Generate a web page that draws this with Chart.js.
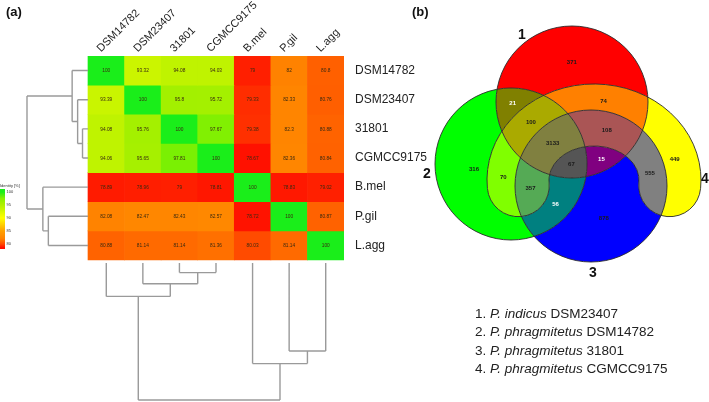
<!DOCTYPE html>
<html><head><meta charset="utf-8">
<script src="https://cdn.jsdelivr.net/npm/chart.js@4.4.0/dist/chart.umd.min.js"></script>
<style>
html,body{margin:0;padding:0;background:#fff;}
#wrap{position:relative;width:709px;height:402px;overflow:hidden;font-family:'Liberation Sans',Arial,sans-serif;}
#heat{position:absolute;left:0;top:0;}
#venn{position:absolute;left:400px;top:0;}
.panel{position:absolute;top:4px;font-weight:bold;font-size:13px;color:#111;}
#legend{position:absolute;left:475px;top:305px;font-size:13.5px;line-height:18.3px;color:#222;white-space:nowrap;}
</style></head>
<body><div id="wrap">
<canvas id="heat" width="430" height="402"></canvas>
<canvas id="venn" width="309" height="402"></canvas>
<div class="panel" style="left:6px">(a)</div>
<div class="panel" style="left:412px">(b)</div>
<div id="legend"></div>
</div>
<script>
// ---------------- DATA ----------------
const colNames = ['DSM14782','DSM23407','31801','CGMCC9175','B.mel','P.gil','L.agg'];
const rowNames = ['DSM14782','DSM23407','31801','CGMCC9175','B.mel','P.gil','L.agg'];
const rowDSM14782  = [100, 93.32, 94.08, 94.03, 79, 82, 80.8];
const rowDSM23407  = [93.39, 100, 95.8, 95.72, 79.33, 82.33, 80.76];
const row31801     = [94.08, 95.76, 100, 97.67, 79.38, 82.3, 80.88];
const rowCGMCC9175 = [94.06, 95.65, 97.81, 100, 78.67, 82.36, 80.84];
const rowBmel      = [78.89, 78.96, 79, 78.81, 100, 78.83, 79.02];
const rowPgil      = [82.08, 82.47, 82.43, 82.57, 78.72, 100, 80.87];
const rowLagg      = [80.88, 81.14, 81.14, 81.36, 80.03, 81.14, 100];
const identity = [rowDSM14782, rowDSM23407, row31801, rowCGMCC9175, rowBmel, rowPgil, rowLagg];

// hierarchical clustering (same tree for rows and columns): leaves 0..6, merged nodes 7..12
const mergeA = [2, 1, 0, 5, 4, 9];
const mergeB = [3, 7, 8, 6, 10, 11];
const mergeH = [0.09, 0.17, 0.26, 0.65, 0.74, 1.0];

const legendTicks = [100, 95, 90, 85, 80];
const colorStops = [78.5, 80, 82, 85, 90, 95, 97.5, 100];
const colorHex = ['#ff0a00','#ff4a00','#ff8200','#ffa000','#ffff00','#b0f000','#88f000','#1aee1a'];

const vennRegions = ['1','2','3','4','1&2','1&3','1&4','2&3','2&4','3&4','1&2&3','1&2&4','1&3&4','2&3&4','1&2&3&4'];
const vennCounts  = [371, 316, 878, 449, 21, 15, 74, 56, 70, 555, 67, 100, 108, 357, 3133];
const setLabels  = ['1','2','3','4'];
const setSpecies = ['P. indicus','P. phragmitetus','P. phragmitetus','P. phragmitetus'];
const setStrains = ['DSM23407','DSM14782','31801','CGMCC9175'];
const setColors  = ['#ff0000','#00ff00','#0000ff','#ffff00'];

// ---------------- LAYOUT / STYLE ----------------
const L = {padLeft: 27, heatLeft: 88, heatRight: 344, heatTop: 56, heatBottom: 260, areaBottom: 400, canvasW: 430, canvasH: 402};
const VG = {
  circles: [{x:172, y:102, r:76}, {x:111, y:164, r:76}, {x:191, y:186, r:76}],
  band: {x:194, y:180, rx:76, ry:65, w:31, endDeg:5},
  setLabelPos: [{x:122, y:35}, {x:27, y:174}, {x:193, y:273}, {x:305, y:179}]
};
const whiteLabelRegions = ['1&2','2&3','1&3'];
const FONT = "'Liberation Sans', Arial, sans-serif";
Chart.defaults.font.family = FONT;

document.getElementById('legend').innerHTML = setLabels.map((s,i) =>
  `<div>${s}. <i>${setSpecies[i]}</i> ${setStrains[i]}</div>`).join('');

function hexToRgb(h){ return [1,3,5].map(i => parseInt(h.slice(i,i+2),16)); }
function colorFor(v){
  if (v <= colorStops[0]) return colorHex[0];
  for (let i = 1; i < colorStops.length; i++) {
    if (v <= colorStops[i]) {
      const t = (v - colorStops[i-1]) / (colorStops[i] - colorStops[i-1]);
      const a = hexToRgb(colorHex[i-1]), b = hexToRgb(colorHex[i]);
      return 'rgb(' + a.map((x,j) => Math.round(x + (b[j]-x)*t)).join(',') + ')';
    }
  }
  return colorHex[colorHex.length-1];
}

const nCols = colNames.length, nRows = rowNames.length;
const cellW = (L.heatRight - L.heatLeft) / nCols;
const cellH = (L.heatBottom - L.heatTop) / nRows;

const datasets = identity.map((row, r) => ({
  label: rowNames[r],
  data: row.map((v, c) => ({x: c + 0.5, y: [r, r + 1], v})),
  backgroundColor: row.map(colorFor),
  borderWidth: 0,
  grouped: false,
  barPercentage: 1,
  categoryPercentage: 1
}));

const cellTextPlugin = {
  id: 'cellText',
  afterDatasetsDraw(chart) {
    const ctx = chart.ctx;
    ctx.save();
    ctx.fillStyle = '#3a2a10';
    ctx.font = '6px ' + FONT;
    ctx.textAlign = 'center';
    ctx.textBaseline = 'middle';
    chart.data.datasets.forEach((ds, di) => {
      chart.getDatasetMeta(di).data.forEach((el, i) => {
        const cy = (el.y + el.base) / 2;
        ctx.save();
        ctx.translate(el.x, cy);
        ctx.scale(0.8, 1);
        ctx.fillText(String(ds.data[i].v), 0, 0);
        ctx.restore();
      });
    });
    ctx.restore();
  }
};

const dendroPlugin = {
  id: 'dendro',
  afterDraw(chart) {
    const ctx = chart.ctx, xs = chart.scales.x, ys = chart.scales.y;
    const n = nRows;
    const hLeft = h => xs.getPixelForValue(h * xs.min);
    const hBottom = h => ys.getPixelForValue(nRows + h * (ys.max - nRows));
    function build(leafPix) {
      const pos = leafPix.slice(), ht = new Array(n).fill(0);
      const segs = [];
      mergeA.forEach((a, k) => {
        const b = mergeB[k], id = n + k;
        pos[id] = (pos[a] + pos[b]) / 2; ht[id] = mergeH[k];
        segs.push({p: pos[a], h0: ht[a], h1: mergeH[k]});
        segs.push({p: pos[b], h0: ht[b], h1: mergeH[k]});
        segs.push({cross: true, p0: pos[a], p1: pos[b], h: mergeH[k]});
      });
      return segs;
    }
    ctx.save();
    ctx.strokeStyle = '#9a9a9a';
    ctx.lineWidth = 1.4;
    const rowSegs = build(rowNames.map((_, i) => ys.getPixelForValue(i + 0.5)));
    ctx.beginPath();
    rowSegs.forEach(s => {
      if (s.cross) { const x = hLeft(s.h); ctx.moveTo(x, s.p0); ctx.lineTo(x, s.p1); }
      else { ctx.moveTo(hLeft(s.h0), s.p); ctx.lineTo(hLeft(s.h1), s.p); }
    });
    ctx.stroke();
    const colSegs = build(colNames.map((_, i) => xs.getPixelForValue(i + 0.5)));
    ctx.beginPath();
    colSegs.forEach(s => {
      if (s.cross) { const y = hBottom(s.h); ctx.moveTo(s.p0, y); ctx.lineTo(s.p1, y); }
      else { const y0 = hBottom(s.h0) + (s.h0 === 0 ? 3 : 0); ctx.moveTo(s.p, y0); ctx.lineTo(s.p, hBottom(s.h1)); }
    });
    ctx.stroke();
    // colour key
    const cbTop = 192, cbStep = 13, cbX = 0, cbW = 5;
    const yOf = v => cbTop + (legendTicks[0] - v) / (legendTicks[0] - legendTicks[1]) * cbStep;
    for (let y = 189; y < 249; y++) {
      const v = legendTicks[0] - (y + 0.5 - cbTop) / cbStep * (legendTicks[0] - legendTicks[1]);
      ctx.fillStyle = colorFor(v);
      ctx.fillRect(cbX, y, cbW, 1);
    }
    ctx.fillStyle = '#333';
    ctx.font = '4px ' + FONT;
    ctx.textBaseline = 'middle';
    ctx.textAlign = 'left';
    legendTicks.forEach(t => ctx.fillText(String(t), cbX + cbW + 1.5, yOf(t)));
    ctx.fillText('Identity [%]', 0, 185.5);
    ctx.restore();
  }
};

new Chart(document.getElementById('heat'), {
  type: 'bar',
  data: { datasets },
  options: {
    responsive: false, animation: false, events: [],
    layout: { padding: { left: L.padLeft, right: 0, top: 0, bottom: L.canvasH - L.areaBottom } },
    plugins: { legend: { display: false }, tooltip: { enabled: false } },
    scales: {
      x: {
        type: 'linear', position: 'top', offset: false,
        min: -(L.heatLeft - L.padLeft) / cellW, max: nCols,
        grid: { display: false, drawTicks: false }, border: { display: false },
        afterBuildTicks: ax => { ax.ticks = colNames.map((_, i) => ({ value: i + 0.5 })); },
        afterFit: ax => { ax.height = L.heatTop; ax.paddingLeft = 0; ax.paddingRight = 0; },
        ticks: { autoSkip: false, minRotation: 45, maxRotation: 45, padding: 1, labelOffset: 2, color: '#222',
                 font: { size: 11 }, callback: v => colNames[Math.floor(v)] }
      },
      y: {
        type: 'linear', position: 'right', reverse: true,
        min: 0, max: nRows + (L.areaBottom - L.heatBottom) / cellH,
        grid: { display: false, drawTicks: false }, border: { display: false },
        afterBuildTicks: ax => { ax.ticks = rowNames.map((_, i) => ({ value: i + 0.5 })); },
        afterFit: ax => { ax.width = L.canvasW - L.heatRight; ax.paddingTop = 0; ax.paddingBottom = 0; },
        ticks: { autoSkip: false, padding: 11, color: '#222', font: { size: 12 },
                 callback: v => rowNames[Math.floor(v)] }
      }
    }
  },
  plugins: [cellTextPlugin, dendroPlugin]
});

// ---------------- VENN ----------------
function circlePath(c, px, py, u) {
  const p = new Path2D();
  p.arc(px(c.x), py(c.y), c.r * u, 0, Math.PI * 2);
  p.closePath();
  return p;
}
function bandPath(b, px, py, u) {
  const cx = px(b.x), cy = py(b.y), rx = b.rx * u, ry = b.ry * u, w = b.w * u;
  const d = b.endDeg * Math.PI / 180, a0 = Math.PI - d, a1 = d;
  const p = new Path2D();
  p.ellipse(cx, cy, rx + w, ry + w, 0, a0, a1, false);
  p.arc(cx + rx * Math.cos(a1), cy + ry * Math.sin(a1), w, a1, a1 + Math.PI, false);
  p.ellipse(cx, cy, rx - w, ry - w, 0, a1, a0, true);
  p.arc(cx + rx * Math.cos(a0), cy + ry * Math.sin(a0), w, a0 + Math.PI, a0 + 2 * Math.PI, false);
  p.closePath();
  return p;
}
function avgColor(members) {
  const acc = [0, 0, 0];
  members.forEach(m => hexToRgb(setColors[m - 1]).forEach((x, j) => acc[j] += x));
  return 'rgb(' + acc.map(x => Math.round(x / members.length)).join(',') + ')';
}

const vennPlugin = {
  id: 'venn',
  afterDraw(chart) {
    const ctx = chart.ctx, sx = chart.scales.vx, sy = chart.scales.vy;
    const px = v => sx.getPixelForValue(v), py = v => sy.getPixelForValue(v);
    const u = sx.getPixelForValue(1) - sx.getPixelForValue(0);
    const shapes = VG.circles.map(c => circlePath(c, px, py, u)).concat([bandPath(VG.band, px, py, u)]);
    const W = chart.width, H = chart.height;
    vennRegions.forEach(key => {
      const members = key.split('&').map(Number);
      ctx.save();
      shapes.forEach((s, i) => {
        if (members.includes(i + 1)) ctx.clip(s);
        else { const p = new Path2D(); p.rect(-10, -10, W + 20, H + 20); p.addPath(s); ctx.clip(p, 'evenodd'); }
      });
      ctx.fillStyle = avgColor(members);
      ctx.fillRect(0, 0, W, H);
      ctx.restore();
    });
    ctx.save();
    ctx.strokeStyle = '#2b2b2b';
    ctx.lineWidth = 0.9;
    shapes.forEach(s => ctx.stroke(s));
    ctx.restore();
    const oc = document.createElement('canvas').getContext('2d');
    const sums = {};
    for (let y = 0; y < H; y += 1.5) {
      for (let x = 0; x < W; x += 1.5) {
        let mask = 0;
        shapes.forEach((s, i) => { if (oc.isPointInPath(s, x, y)) mask |= (1 << i); });
        if (!mask) continue;
        const m = sums[mask] || (sums[mask] = {x: 0, y: 0, n: 0});
        m.x += x; m.y += y; m.n++;
      }
    }
    ctx.save();
    ctx.font = 'bold 6px ' + FONT;
    ctx.textAlign = 'center';
    ctx.textBaseline = 'middle';
    vennRegions.forEach((key, k) => {
      const mask = key.split('&').map(Number).reduce((a, m) => a | (1 << (m - 1)), 0);
      const s = sums[mask];
      if (!s) return;
      ctx.fillStyle = whiteLabelRegions.includes(key) ? '#ffffff' : '#1a1a1a';
      ctx.fillText(String(vennCounts[k]), s.x / s.n, s.y / s.n);
    });
    ctx.font = 'bold 14px ' + FONT;
    ctx.fillStyle = '#111';
    setLabels.forEach((t, i) => ctx.fillText(t, px(VG.setLabelPos[i].x), py(VG.setLabelPos[i].y)));
    ctx.restore();
  }
};

new Chart(document.getElementById('venn'), {
  type: 'scatter',
  data: { datasets: [{ data: [], xAxisID: 'vx', yAxisID: 'vy' }] },
  options: {
    responsive: false, animation: false, events: [],
    layout: { padding: 0 },
    plugins: { legend: { display: false }, tooltip: { enabled: false } },
    scales: {
      vx: { type: 'linear', axis: 'x', position: 'bottom', display: false, min: 0, max: 309 },
      vy: { type: 'linear', axis: 'y', position: 'left', display: false, min: 0, max: 402, reverse: true }
    }
  },
  plugins: [vennPlugin]
});
</script>
</body></html>
